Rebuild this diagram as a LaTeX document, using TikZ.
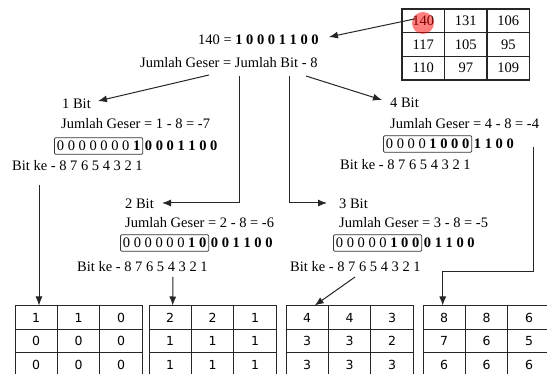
\documentclass[tikz,border=0pt]{standalone}
\usepackage{fontspec}
\setmainfont{Liberation Serif}
\newfontfamily\cellfont{DejaVu Sans}
\usetikzlibrary{arrows.meta}
\begin{document}
\begin{tikzpicture}[x=1pt,y=-1pt,
  txt/.style={anchor=west,inner sep=0pt,font=\fontsize{14.5}{16}\selectfont},
  bitbox/.style={draw=black!80,line width=0.8pt,rounded corners=1.2pt,anchor=west,inner xsep=2.5pt,inner ysep=0pt,minimum height=16.5pt,font=\fontsize{14.5}{16}\selectfont},
  conn/.style={draw=black!85,line width=1pt},
  arr/.style={conn,-{Latex[length=9pt,width=7pt]}},
  cell/.style={draw=black!85,line width=1pt,minimum width=42.4pt,minimum height=23.5pt,inner sep=0pt,font=\cellfont\fontsize{12.5}{14}\selectfont},
  tcell/.style={draw=black!85,line width=1.3pt,minimum width=42.5pt,minimum height=23.67pt,inner sep=0pt,font=\fontsize{14.5}{16}\selectfont}
]
\clip (0,0) rectangle (547,374);
\fill[white] (0,0) rectangle (547,374);

% top-right matrix
\foreach \r/\y/\a/\b/\c in {1/20.8/140/131/106, 2/44.5/117/105/95, 3/68.2/110/97/109} {
  \node[tcell] (m\r1) at (423.25,\y) {\a};
  \node[tcell] (m\r2) at (465.75,\y) {\b};
  \node[tcell] (m\r3) at (508.25,\y) {\c};
}
\fill[red,opacity=0.5] (423,23) circle (11pt);

% main text
\node[txt] (eq) at (198,40) {140 = \textbf{1 0 0 0 1 1 0 0}};
\node[txt] (rule) at (140,63) {Jumlah Geser = Jumlah Bit - 8};

% 1 bit
\node[txt] (b1) at (62,104) {1 Bit};
\node[txt] (j1) at (61,124) {Jumlah Geser = 1 - 8 = -7};
\node[bitbox] (x1) at (54,146) {0 0 0 0 0 0 0 \textbf{1}};
\node[txt] (y1) at ([xshift=1.5pt]x1.east) {\textbf{0 0 0 1 1 0 0}};
\node[txt] (k1) at (12,166) {Bit ke - 8 7 6 5 4 3 2 1};

% 4 bit
\node[txt] (b4) at (390,103) {4 Bit};
\node[txt] (j4) at (390,124) {Jumlah Geser = 4 - 8 = -4};
\node[bitbox] (x4) at (383,144) {0 0 0 0 \textbf{1 0 0 0}};
\node[txt] (y4) at ([xshift=1.5pt]x4.east) {\textbf{1 1 0 0}};
\node[txt] (k4) at (340,165) {Bit ke - 8 7 6 5 4 3 2 1};

% 2 bit
\node[txt] (b2) at (125,204) {2 Bit};
\node[txt] (j2) at (125,223) {Jumlah Geser = 2 - 8 = -6};
\node[bitbox] (x2) at (120,243) {0 0 0 0 0 0 \textbf{1 0}};
\node[txt] (y2) at ([xshift=1.5pt]x2.east) {\textbf{0 0 1 1 0 0}};
\node[txt] (k2) at (77,267) {Bit ke - 8 7 6 5 4 3 2 1};

% 3 bit
\node[txt] (b3) at (339,204) {3 Bit};
\node[txt] (j3) at (339,223) {Jumlah Geser = 3 - 8 = -5};
\node[bitbox] (x3) at (333,243) {0 0 0 0 0 \textbf{1 0 0}};
\node[txt] (y3) at ([xshift=1.5pt]x3.east) {\textbf{0 1 1 0 0}};
\node[txt] (k3) at (290,267) {Bit ke - 8 7 6 5 4 3 2 1};

% bottom tables
\foreach \t/\xo/\r/\y/\a/\b/\c in {
  1/15/1/317.75/1/1/0, 1/15/2/341.25/0/0/0, 1/15/3/364.75/0/0/0,
  2/149/1/317.75/2/2/1, 2/149/2/341.25/1/1/1, 2/149/3/364.75/1/1/1,
  3/286/1/317.75/4/4/3, 3/286/2/341.25/3/3/2, 3/286/3/364.75/3/3/3,
  4/423/1/317.75/8/8/6, 4/423/2/341.25/7/6/5, 4/423/3/364.75/6/6/6} {
  \node[cell] (t\t-\r-1) at (\xo+21.2,\y) {\a};
  \node[cell] (t\t-\r-2) at (\xo+63.6,\y) {\b};
  \node[cell] (t\t-\r-3) at (\xo+106,\y) {\c};
}

% connector start points
\coordinate (r1) at (209,75);
\coordinate (r2) at (239,76);
\coordinate (r3) at (289,76);
\coordinate (r4) at (306,76);
\coordinate (d1) at (39,185);
\coordinate (d2) at (173,277);
\coordinate (d3) at (355,277);
\coordinate (d4) at (533,147);

% connectors
\draw[arr] ([xshift=-8pt,yshift=2pt]m11.center) -- ([xshift=10pt,yshift=3pt]eq.east);
\draw[arr] (r1) -- ([xshift=7pt,yshift=3pt]b1.east);
\draw[arr] (r4) -- ([xshift=-8pt,yshift=3pt]b4.west);
\draw[arr] (r2) |- ([xshift=8pt,yshift=1pt]b2.east);
\draw[arr] (r3) |- ([xshift=-12pt,yshift=1pt]b3.west);
\draw[arr] (d1) -- ([xshift=2.8pt]t1-1-1.north);
\draw[arr] (d2) -- ([xshift=2.5pt]t2-1-1.north);
\draw[arr] (d3) -- ([xshift=7.5pt]t3-1-1.north);
\draw[arr] (d4) |- ([yshift=34pt,xshift=-1.5pt]t4-1-1.north) -- ([xshift=-1.5pt]t4-1-1.north);
\end{tikzpicture}
\end{document}
